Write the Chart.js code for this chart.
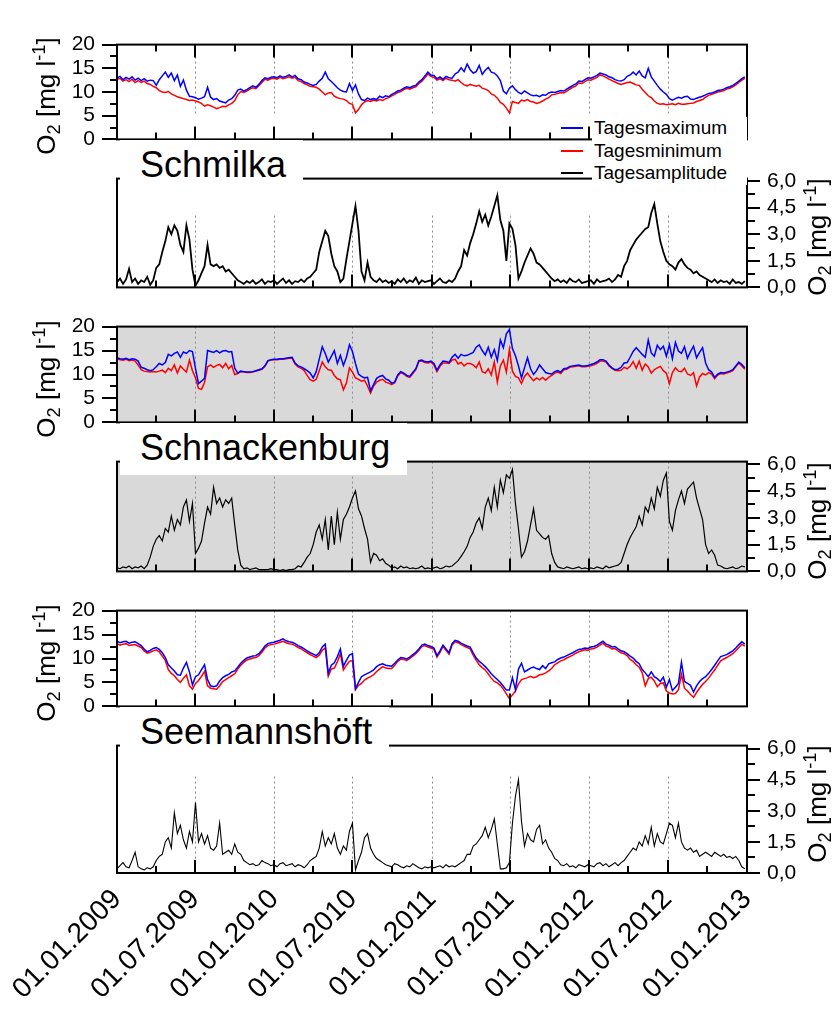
<!DOCTYPE html>
<html>
<head>
<meta charset="utf-8">
<script src="https://cdn.jsdelivr.net/npm/chart.js@4.4.1/dist/chart.umd.min.js"></script>
<style>
  body { margin: 0; background: #fff; }
  #wrap { position: relative; width: 832px; height: 1014px; overflow: hidden; font-family: 'Liberation Sans', Arial, sans-serif; }
  #wrap canvas { position: absolute; left: 0; }
  .station { position: absolute; left: 120px; height: 52px; line-height: 49px; padding: 0 17px 0 20px; background: #fff; font-size: 36px; z-index: 5; white-space: nowrap; }
  .ytitle { position: absolute; font-size: 26px; line-height: 1; white-space: nowrap; transform: translate(-50%, -50%) rotate(-90deg); z-index: 5; }
  .ytitle sub, .ytitle sup { font-size: 70%; line-height: 0; position: relative; vertical-align: baseline; }
  .ytitle sub { top: 0.3em; }
  .ytitle sup { top: -0.55em; }
  #legend { position: absolute; left: 561px; top: 117px; z-index: 6; font-size: 19px; }
  #legend .row { display: flex; align-items: center; height: 22.5px; }
  #legend .swatch { width: 22px; height: 2px; margin-right: 9px; }
  #legend .label { display: inline-block; width: 153px; height: 22.5px; line-height: 22.5px; background: #fff; padding-left: 2px; }
</style>
</head>
<body>
<div id="wrap"></div>
<script>
// weekly values, first value on 01.01.2009, one row per quarter
const startLabel = '01.01.2009';
const stepDays = 7;

const tickDates = ['01.01.2009', '01.07.2009', '01.01.2010', '01.07.2010', '01.01.2011', '01.07.2011', '01.01.2012', '01.07.2012', '01.01.2013'];
const quarterDates = ['01.04.2009', '01.10.2009', '01.04.2010', '01.10.2010', '01.04.2011', '01.10.2011', '01.04.2012', '01.10.2012'];
const o2Ticks = [0, 5, 10, 15, 20];
const ampTicks = [0, 1.5, 3, 4.5, 6];

const seriesNames = ['Tagesmaximum', 'Tagesminimum', 'Tagesamplitude'];
const stations = ['Schmilka', 'Schnackenburg', 'Seemannshöft'];

const schmilkaMax = [
  13.0, 13.3, 12.6, 13.1, 12.7, 13.2, 12.5, 12.9, 12.4, 12.8, 12.3, 12.5, 12.4,
  11.4, 12.6, 13.4, 14.2, 13.1, 14.0, 12.4, 13.6, 11.2, 12.5, 10.4, 9.1, 9.0,
  8.8, 8.5, 8.7, 9.0, 11.0, 8.9, 8.4, 8.6, 8.1, 7.9, 7.7, 8.3, 8.6,
  9.3, 10.4, 10.6, 10.2, 10.5, 10.9, 11.3, 11.0, 11.6, 12.4, 13.0, 12.8, 13.1,
  13.2, 13.0, 13.4, 13.1, 13.3, 13.6, 13.2, 13.5, 12.8, 12.6, 12.1, 11.9, 11.6,
  11.4, 11.6, 12.3, 12.9, 14.2, 12.8, 12.2, 11.6, 10.9, 10.4, 10.1, 10.0, 11.8,
  10.3, 11.5, 9.6, 8.4, 8.2, 8.7, 8.4, 8.6, 8.4, 9.1, 8.8, 9.2, 9.0,
  9.5, 9.8, 10.2, 10.4, 10.8, 11.1, 10.9, 11.2, 11.4, 12.1, 12.6, 13.4, 14.2,
  13.6, 13.5, 12.8, 13.2, 12.7, 13.3, 13.0, 12.9, 13.8, 14.2, 15.1, 14.3, 15.9,
  14.7, 14.0, 14.3, 15.6, 13.7, 14.6, 15.2, 14.2, 14.0, 13.4, 12.4, 10.2, 9.6,
  10.8, 11.3, 10.5, 9.9, 9.6, 10.2, 9.8, 9.4, 9.2, 9.3, 9.0, 9.4, 9.3,
  9.8, 10.0, 9.9, 10.1, 10.3, 10.2, 10.6, 11.0, 11.4, 11.7, 12.3, 12.2, 12.6,
  13.0, 12.9, 13.2, 13.5, 14.0, 13.8, 13.6, 13.2, 13.0, 12.6, 12.4, 12.3, 12.6,
  13.3, 13.6, 14.2, 13.6, 14.4, 13.4, 13.0, 15.0, 13.2, 12.3, 11.4, 10.6, 10.0,
  9.5, 8.6, 8.3, 8.6, 8.9, 8.7, 9.0, 9.1, 8.5, 8.4, 8.7, 8.9, 9.1,
  9.4, 9.7, 9.8, 10.0, 10.3, 10.4, 10.6, 10.9, 11.1, 11.4, 11.8, 12.3, 12.8,
  13.2
];
const schmilkaMin = [
  12.7, 12.9, 12.3, 12.6, 12.2, 12.7, 12.0, 12.4, 12.0, 12.3, 11.8, 11.6, 11.2,
  10.9, 10.3, 10.0, 9.9, 10.1, 9.6, 9.3, 9.0, 8.8, 8.6, 8.4, 8.2, 8.3,
  8.1, 7.9, 7.6, 7.0, 7.3, 7.1, 6.8, 6.5, 6.7, 7.0, 6.9, 7.3, 7.6,
  8.2, 9.4, 10.1, 9.9, 10.2, 10.6, 10.9, 10.7, 11.3, 12.0, 12.7, 12.5, 12.8,
  12.9, 12.7, 13.1, 12.8, 13.0, 13.2, 12.9, 13.1, 12.4, 12.2, 11.8, 11.5, 11.2,
  11.1, 11.0, 10.6, 10.0, 9.4, 9.8, 9.9, 9.1, 8.8, 8.6, 8.5, 8.2, 7.6,
  7.4, 5.6, 6.3, 7.3, 7.9, 8.2, 8.0, 8.3, 8.1, 8.4, 8.2, 8.6, 8.8,
  9.2, 9.5, 9.9, 10.1, 10.5, 10.8, 10.6, 10.9, 11.1, 11.8, 12.3, 13.0, 13.8,
  13.3, 13.1, 12.5, 12.8, 12.4, 12.9, 12.6, 12.5, 12.3, 12.6, 12.0, 11.5, 11.3,
  11.6, 11.4, 11.2, 11.4, 10.8, 10.6, 10.3, 9.6, 9.3, 8.7, 7.8, 7.4, 6.6,
  5.6, 8.0, 7.8, 7.6, 8.3, 8.1, 8.4, 8.0, 7.9, 7.6, 7.8, 8.1, 8.5,
  8.8, 9.4, 9.5, 9.7, 9.9, 9.8, 10.2, 10.6, 11.0, 11.3, 11.9, 11.8, 12.2,
  12.6, 12.5, 12.8, 13.1, 13.6, 13.4, 13.1, 12.7, 12.4, 12.1, 11.8, 11.6, 11.8,
  12.0, 12.1, 11.8, 11.5, 11.4, 10.6, 9.9, 9.2, 8.8, 8.1, 7.6, 7.4, 7.5,
  7.3, 7.4, 7.5, 7.3, 7.6, 7.4, 7.4, 7.5, 7.6, 7.7, 8.0, 8.2, 8.4,
  8.9, 9.3, 9.5, 9.7, 10.0, 10.1, 10.3, 10.6, 10.8, 11.1, 11.5, 12.0, 12.5,
  12.9
];
const schmilkaAmp = [
  0.3, 0.5, 0.2, 0.45, 1.05, 0.3, 0.5, 0.2, 0.4, 0.3, 0.6, 0.15, 0.4,
  1.1, 1.3, 2.0, 2.6, 3.4, 3.0, 3.5, 3.2, 2.4, 2.0, 3.5, 2.7, 1.0,
  0.1, 0.4, 0.8, 1.2, 2.4, 1.3, 1.2, 1.3, 1.1, 1.2, 0.9, 1.0, 0.8,
  0.6, 0.4, 0.3, 0.2, 0.35, 0.25, 0.4, 0.2, 0.3, 0.45, 0.2, 0.35, 0.3,
  0.4, 0.2, 0.35, 0.5, 0.25, 0.4, 0.2, 0.35, 0.3, 0.45, 0.3, 0.5, 0.6,
  0.8, 1.0, 2.0, 2.6, 3.2, 2.9, 1.9, 1.2, 0.9, 0.3, 0.5, 1.6, 2.6,
  3.6, 4.6, 3.2, 0.9, 0.4, 1.4, 0.6, 0.4, 0.3, 0.5, 0.3, 0.4, 0.25,
  0.35, 0.2, 0.45, 0.3, 0.5, 0.25, 0.4, 0.3, 0.55, 0.2, 0.4, 0.3, 0.35,
  0.4, 0.2, 0.35, 0.5, 0.3, 0.25, 0.4, 0.3, 0.5, 0.9, 1.2, 2.1, 1.8,
  2.5, 3.0, 3.6, 4.3, 3.7, 4.1, 3.5, 4.0, 4.6, 5.2, 3.8, 3.2, 1.5,
  3.6, 3.3, 2.4, 0.5, 0.9, 1.4, 1.8, 2.2, 1.9, 1.4, 1.3, 1.1, 0.9,
  0.7, 0.5, 0.35, 0.45, 0.3, 0.4, 0.25, 0.5, 0.35, 0.3, 0.45, 0.25, 0.3,
  0.35, 0.4, 0.2, 0.45, 0.3, 0.35, 0.4, 0.5, 0.3, 0.45, 0.7, 0.6, 1.2,
  1.5, 2.1, 2.4, 2.7, 2.9, 3.1, 3.3, 3.4, 4.2, 4.7, 3.6, 2.6, 2.0,
  1.5, 1.3, 1.2, 1.0, 1.4, 1.6, 1.3, 1.1, 1.0, 0.8, 0.9, 0.7, 0.6,
  0.5, 0.4, 0.3, 0.45, 0.25, 0.4, 0.3, 0.35, 0.2, 0.45, 0.25, 0.3, 0.2,
  0.35
];

const schnackenburgMax = [
  13.5, 13.3, 13.2, 13.4, 13.1, 13.3, 13.2, 12.8, 11.5, 11.3, 11.0, 10.8, 11.0,
  11.6, 12.3, 12.0, 12.5, 14.2, 13.9, 14.4, 14.7, 13.6, 14.7, 14.4, 15.0, 14.8,
  11.3, 8.1, 8.6, 9.2, 15.0, 14.8, 14.6, 15.0, 14.5, 14.9, 15.0, 14.7, 14.8,
  11.3, 10.3, 10.7, 10.6, 10.5, 10.5, 10.6, 10.8, 11.0, 11.2, 11.8, 12.9, 13.1,
  13.2, 13.2, 13.3, 13.3, 13.4, 13.5, 13.6, 12.4, 11.8, 11.6, 11.2, 10.8, 10.3,
  9.3, 10.6, 13.2, 15.8, 14.4, 12.6, 13.8, 15.0, 12.3, 14.0, 11.9, 13.6, 16.2,
  14.8, 12.3, 10.1, 9.6, 9.3, 9.4, 6.6, 7.9, 9.2, 9.6, 9.8, 9.1, 8.8,
  8.2, 8.4, 9.9, 10.6, 10.3, 9.8, 9.6, 10.4, 11.2, 12.9, 13.0, 12.7, 12.6,
  12.8, 12.3, 10.9, 12.0, 12.8, 12.7, 12.5, 13.6, 14.2, 13.4, 14.2, 13.9, 14.0,
  14.3, 14.6, 15.7, 16.2, 15.0, 14.1, 15.7, 13.6, 15.2, 12.9, 17.2, 15.6, 18.5,
  19.4, 15.4, 13.9, 11.8, 9.3, 11.4, 13.5, 11.2, 10.0, 10.8, 12.0, 11.2, 10.4,
  10.2, 10.1, 10.6, 10.8, 10.5, 11.2, 11.3, 11.7, 11.8, 11.9, 12.0, 11.8, 11.8,
  11.9, 12.1, 12.3, 12.6, 13.1, 13.1, 12.8, 12.0, 11.4, 11.0, 11.1, 11.5, 12.4,
  12.5, 13.6, 14.8, 15.6, 14.9, 14.2, 13.6, 17.2, 14.5, 13.8, 16.1, 15.2, 15.9,
  13.8, 16.2, 13.3, 16.7, 14.9, 14.4, 15.8, 13.4, 14.8, 15.9, 13.5, 14.6, 15.6,
  12.4, 11.0, 10.5, 9.4, 10.1, 10.4, 10.3, 10.5, 10.7, 11.0, 11.8, 12.6, 12.1,
  11.4
];
const schnackenburgMin = [
  13.3, 13.1, 13.0, 13.2, 12.9, 13.0, 12.8, 12.0, 11.0, 10.7, 10.6, 10.5, 10.6,
  10.5, 10.7, 10.9, 10.4, 11.3, 10.8, 12.0, 10.3, 11.8, 11.1, 10.5, 13.0, 10.8,
  9.3, 7.1, 6.9, 8.3, 11.6, 12.0, 11.5, 11.9, 12.1, 11.4, 12.3, 11.2, 11.9,
  10.0, 10.2, 10.6, 10.5, 10.4, 10.4, 10.5, 10.7, 10.9, 11.1, 11.7, 12.8, 13.0,
  13.1, 13.1, 13.2, 13.2, 13.3, 13.4, 13.4, 12.2, 11.6, 11.3, 10.8, 9.8, 8.9,
  8.6, 9.0, 10.8, 12.6, 11.6, 11.0, 10.9, 9.8, 9.1, 8.9, 6.8, 8.2, 11.4,
  10.5, 9.3, 9.0, 8.6, 8.8, 7.6, 6.1, 7.6, 8.4, 8.8, 9.0, 8.4, 8.2,
  7.9, 8.3, 9.7, 10.4, 10.1, 9.6, 9.4, 10.2, 11.0, 12.7, 12.8, 12.5, 12.4,
  12.6, 12.0, 10.6, 11.7, 12.4, 12.4, 12.3, 13.0, 13.2, 12.2, 12.5, 11.8, 12.3,
  12.3, 12.0, 11.4, 12.6, 10.6, 10.3, 11.2, 9.9, 12.6, 8.4, 11.8, 13.0, 10.5,
  15.2, 10.7, 9.6, 9.3, 8.1, 9.6, 10.3, 9.4, 8.7, 9.3, 8.9, 9.4, 8.8,
  9.4, 9.8, 10.3, 10.5, 10.2, 11.0, 11.1, 11.5, 11.6, 11.7, 11.8, 11.6, 11.6,
  11.7, 11.8, 12.0, 12.3, 12.8, 12.8, 12.6, 11.8, 11.3, 10.9, 10.8, 10.9, 11.5,
  11.2, 11.7, 12.7, 11.3, 12.8, 10.9, 12.2, 11.6, 10.3, 11.0, 11.4, 11.7, 10.8,
  10.3, 8.1, 10.4, 11.4, 10.7, 10.6, 11.3, 10.1, 9.8, 10.4, 7.6, 9.5, 10.2,
  9.9, 10.4, 10.1, 9.1, 9.9, 10.2, 10.1, 10.3, 10.5, 10.8, 11.6, 12.4, 11.8,
  11.1
];
const schnackenburgAmp = [
  0.2, 0.15, 0.25, 0.2, 0.3, 0.15, 0.25, 0.2, 0.3, 0.15, 0.35, 0.8, 1.4,
  1.8, 2.0, 1.7, 2.4, 2.2, 3.1, 2.3, 2.9, 2.6, 3.6, 4.0, 2.8, 3.8,
  1.0, 1.3, 1.7, 2.7, 3.6, 3.2, 4.7, 3.8, 4.1, 3.6, 4.0, 3.8, 4.1,
  2.6, 1.2, 0.35, 0.15, 0.2, 0.1, 0.15, 0.2, 0.1, 0.1, 0.1, 0.1, 0.15,
  0.1, 0.1, 0.05, 0.1, 0.05, 0.1, 0.1, 0.15, 0.3, 0.25, 0.5, 0.8, 1.0,
  1.5, 2.2, 2.6, 1.8, 2.9, 1.2, 3.1, 1.5, 3.3, 1.8, 2.9, 3.2, 3.6,
  4.1, 4.5, 3.5, 3.1, 2.4, 1.8, 0.5, 1.0, 0.9, 0.6, 0.7, 0.45, 0.35,
  0.2, 0.25, 0.15, 0.3, 0.2, 0.25, 0.15, 0.2, 0.15, 0.2, 0.3, 0.15, 0.2,
  0.15, 0.2, 0.25, 0.15, 0.2, 0.3, 0.25, 0.3, 0.45, 0.6, 0.84, 1.1, 1.4,
  1.9, 2.2, 2.7, 3.0, 2.4, 3.6, 4.1, 3.4, 4.7, 3.6, 5.1, 4.4, 5.4,
  5.2, 5.7, 3.8, 2.4, 0.8, 1.1, 1.7, 2.6, 3.5, 2.3, 2.1, 1.9, 1.8,
  2.0, 1.0, 0.5, 0.25, 0.2, 0.15, 0.25, 0.2, 0.15, 0.2, 0.25, 0.15, 0.2,
  0.15, 0.2, 0.15, 0.25, 0.2, 0.15, 0.3, 0.2, 0.25, 0.3, 0.35, 0.5, 1.0,
  1.5, 1.9, 2.2, 2.5, 3.1, 2.6, 3.6, 3.3, 4.1, 3.5, 4.7, 4.2, 5.1,
  5.5, 2.8, 2.3, 3.4, 4.0, 4.5, 3.8, 4.6, 4.8, 5.0, 4.1, 3.5, 2.9,
  1.5, 1.0, 1.2, 0.9, 0.35, 0.3, 0.2, 0.15, 0.2, 0.25, 0.15, 0.2, 0.3,
  0.25
];

const seemannshoeftMax = [
  13.6, 13.3, 13.5, 13.6, 13.2, 13.4, 13.5, 13.1, 12.7, 12.0, 11.4, 11.7, 12.1,
  12.3, 11.9, 11.2, 10.2, 8.7, 8.0, 7.4, 6.6, 6.5, 8.0, 9.2, 7.2, 4.5,
  6.2, 6.6, 7.7, 8.7, 5.6, 4.3, 4.1, 4.3, 5.3, 6.0, 6.4, 6.7, 7.2,
  7.4, 8.2, 9.0, 9.6, 10.1, 10.3, 10.5, 10.6, 11.0, 11.7, 12.6, 13.1, 13.3,
  13.4, 13.6, 13.8, 14.1, 13.7, 13.5, 13.4, 13.1, 12.7, 12.4, 12.0, 11.6, 11.2,
  10.9, 10.6, 11.2, 12.4, 13.0, 6.9, 8.6, 9.1, 10.4, 12.0, 8.4, 9.6, 10.7,
  11.0, 3.7, 5.0, 6.2, 6.6, 6.9, 7.2, 7.6, 8.3, 8.7, 8.9, 8.6, 8.5,
  8.4, 9.0, 9.7, 10.2, 10.1, 9.9, 10.3, 10.8, 11.3, 12.0, 12.8, 13.0, 12.7,
  12.5, 12.2, 10.6, 11.6, 12.8, 12.0, 11.2, 13.1, 13.8, 13.6, 13.2, 12.9, 12.6,
  12.4, 11.2, 10.1, 9.4, 8.9, 8.3, 7.6, 6.8, 6.2, 5.6, 5.0, 4.2, 3.4,
  3.4, 6.0, 3.5, 7.8, 9.0, 7.2, 7.6, 8.0, 8.2, 7.9, 7.7, 8.5, 7.9,
  8.9, 9.1, 9.3, 9.8, 10.1, 10.3, 10.6, 10.9, 11.2, 11.6, 11.9, 12.0, 12.2,
  12.1, 12.4, 12.5, 12.8, 13.2, 13.6, 13.0, 12.8, 12.4, 12.5, 12.0, 11.6, 11.4,
  11.0, 10.5, 10.1, 9.4, 8.9, 7.7, 7.0, 6.2, 7.2, 6.2, 5.8, 5.2, 6.1,
  4.0, 5.6, 3.3, 4.0, 4.8, 9.2, 5.2, 4.8, 4.4, 3.0, 4.3, 5.2, 5.8,
  6.2, 6.9, 7.7, 8.6, 9.5, 10.4, 10.6, 10.8, 11.2, 11.6, 12.2, 12.9, 13.5,
  13.0
];
const seemannshoeftMin = [
  13.1, 12.8, 13.0, 13.1, 12.7, 12.8, 12.9, 12.6, 12.3, 11.6, 11.1, 11.3, 11.6,
  11.8, 11.4, 10.5, 9.6, 7.7, 6.9, 6.4, 5.6, 5.0, 5.9, 6.6, 4.3, 3.6,
  4.8, 5.4, 6.3, 7.3, 4.3, 3.8, 3.7, 3.6, 4.3, 5.2, 5.6, 6.0, 6.4,
  6.8, 7.8, 8.6, 9.2, 9.7, 9.9, 10.1, 10.2, 10.6, 11.3, 12.2, 12.7, 12.9,
  13.0, 13.2, 13.4, 13.6, 13.3, 13.1, 13.0, 12.7, 12.3, 12.0, 11.6, 11.2, 10.8,
  10.5, 10.2, 10.7, 11.7, 12.2, 6.3, 7.8, 8.0, 9.3, 11.0, 7.6, 8.6, 9.4,
  9.6, 3.5, 4.4, 4.8, 5.5, 5.9, 6.2, 6.6, 7.3, 7.8, 8.3, 8.0, 7.9,
  7.9, 8.6, 9.4, 9.9, 9.8, 9.6, 10.0, 10.5, 11.0, 11.7, 12.5, 12.7, 12.4,
  12.2, 11.9, 10.3, 11.3, 12.5, 11.7, 10.9, 12.8, 13.5, 13.3, 12.9, 12.6, 12.3,
  12.0, 10.7, 9.6, 8.7, 8.1, 7.6, 6.8, 5.9, 5.2, 4.9, 4.4, 3.6, 2.6,
  1.6, 2.4, 3.2, 4.7, 5.6, 5.8, 6.0, 6.3, 6.0, 6.2, 6.6, 6.7, 7.0,
  7.4, 7.9, 8.7, 9.1, 9.5, 9.7, 10.1, 10.4, 10.7, 11.1, 11.4, 11.6, 11.8,
  11.7, 12.0, 12.1, 12.4, 12.8, 13.2, 12.6, 12.4, 12.0, 12.1, 11.6, 11.2, 11.0,
  10.6, 9.8, 9.4, 8.7, 8.2, 7.0, 4.3, 5.8, 6.1, 5.3, 4.1, 4.8, 4.9,
  3.2, 2.8, 2.6, 2.7, 3.5, 6.7, 3.8, 3.2, 2.5, 1.9, 2.9, 3.8, 4.6,
  5.2, 5.9, 6.8, 7.6, 8.6, 9.5, 9.9, 10.2, 10.6, 11.0, 11.6, 12.3, 13.0,
  12.6
];
const seemannshoeftAmp = [
  0.2, 0.35, 0.5, 0.3, 0.25, 0.6, 1.0, 0.3, 0.2, 0.15, 0.25, 0.2, 0.3,
  0.6, 0.8, 0.9, 1.5, 1.7, 1.2, 2.9, 1.9, 2.3, 1.6, 1.2, 2.0, 1.5,
  3.4, 1.5, 1.9, 1.4, 1.8, 1.2, 1.1, 1.3, 2.4, 0.9, 1.0, 1.1, 0.9,
  1.4, 1.0, 0.9, 0.6, 0.5, 0.4, 0.45, 0.35, 0.4, 0.6, 0.5, 0.45, 0.35,
  0.4, 0.3, 0.45, 0.5, 0.35, 0.4, 0.45, 0.3, 0.4, 0.35, 0.25, 0.4, 0.6,
  0.7, 0.8, 1.2, 2.0, 1.3, 1.7, 1.4, 1.9, 1.2, 0.9, 1.3, 1.1, 2.0,
  2.4, 0.15, 0.6, 1.0, 1.7, 1.9, 1.2, 0.9, 0.7, 0.6, 0.5, 0.4, 0.35,
  0.3, 0.45, 0.4, 0.3, 0.25, 0.35, 0.3, 0.45, 0.35, 0.25, 0.2, 0.3, 0.25,
  0.3, 0.25, 0.3, 0.35, 0.25, 0.4, 0.3, 0.35, 0.3, 0.4, 0.5, 0.6, 0.9,
  0.9, 1.3, 1.4, 1.6, 1.8, 2.2, 1.7, 2.1, 2.6, 1.4, 0.2, 0.2, 0.25,
  0.5, 2.4, 3.7, 4.5, 2.5, 1.3, 1.9, 1.6, 1.5, 2.1, 2.3, 1.4, 1.6,
  1.2, 1.0, 0.7, 0.6, 0.4, 0.35, 0.45, 0.3, 0.35, 0.25, 0.4, 0.35, 0.3,
  0.4, 0.35, 0.3, 0.45, 0.5, 0.35, 0.45, 0.3, 0.4, 0.5, 0.35, 0.5, 0.6,
  0.8, 1.0, 1.2, 1.1, 1.5, 1.3, 1.8, 1.4, 2.2, 1.3, 1.9, 1.5, 1.4,
  1.9, 2.4, 2.3, 1.7, 2.4, 1.5, 1.2, 1.1, 1.2, 1.0, 1.1, 0.8, 0.9,
  1.0, 0.9, 0.8, 1.0, 0.9, 0.8, 0.9, 0.75, 0.8, 0.7, 0.8, 0.6, 0.3,
  0.2
];

const colMax = '#0000ff';
const colMin = '#ff0000';
const colAmp = '#000000';
const shade = '#d9d9d9';

// panel geometry in page pixels; value ranges of the two kinds of panel
const plotLeft = 117, plotRight = 747;
const o2Top = 20, ampTop = 6.14;
const panels = [
  { kind: 'o2', top: 24, bottom: 160, hi: schmilkaMax, lo: schmilkaMin, gridInset: [12, 26], firstTicks: true },
  { kind: 'amp', top: 160, bottom: 306, amp: schmilkaAmp, lw: 1.8, gridInset: [37, 0], station: stations[0] },
  { kind: 'o2', top: 306, bottom: 443, hi: schnackenburgMax, lo: schnackenburgMin, gridInset: [0, 20], shaded: true },
  { kind: 'amp', top: 443, bottom: 590, amp: schnackenburgAmp, lw: 1.2, gridInset: [0, 0], shaded: true, station: stations[1] },
  { kind: 'o2', top: 590, bottom: 727, hi: seemannshoeftMax, lo: seemannshoeftMin, gridInset: [0, 26] },
  { kind: 'amp', top: 727, bottom: 873, amp: seemannshoeftAmp, lw: 1.1, gridInset: [31, 0], station: stations[2] }
];

function dayOf(label) {
  const [d, m, y] = label.split('.').map(Number);
  const [d0, m0, y0] = startLabel.split('.').map(Number);
  return Math.round((Date.UTC(y, m - 1, d) - Date.UTC(y0, m0 - 1, d0)) / 86400000);
}
const lastDay = dayOf(tickDates[tickDates.length - 1]);

function series(values, color, width, axis) {
  return {
    data: values.map((v, k) => ({ x: k * stepDays, y: v })),
    borderColor: color,
    borderWidth: width,
    pointRadius: 0,
    tension: 0,
    fill: false,
    yAxisID: axis
  };
}

function midpoints(arr) {
  const out = [];
  for (let k = 0; k < arr.length - 1; k++) out.push((arr[k] + arr[k + 1]) / 2);
  return out;
}

const panelFrame = {
  id: 'panelFrame',
  beforeDatasetsDraw(chart, args, o) {
    const { ctx, chartArea: a } = chart;
    const x = chart.scales.x;
    ctx.save();
    if (o.shaded) {
      ctx.fillStyle = shade;
      ctx.fillRect(a.left, a.top, a.right - a.left, a.bottom - a.top);
    }
    ctx.strokeStyle = '#8a8a8a';
    ctx.lineWidth = 1;
    ctx.setLineDash([2, 3]);
    tickDates.slice(1, -1).forEach(l => {
      const px = Math.round(x.getPixelForValue(dayOf(l))) + 0.5;
      ctx.beginPath();
      ctx.moveTo(px, a.top + o.gridInset[0]);
      ctx.lineTo(px, a.bottom - o.gridInset[1]);
      ctx.stroke();
    });
    ctx.restore();
  },
  afterDraw(chart, args, o) {
    const { ctx, chartArea: a, scales } = chart;
    ctx.save();
    ctx.strokeStyle = '#000';
    ctx.lineWidth = 2;
    const seg = (x1, y1, x2, y2) => { ctx.beginPath(); ctx.moveTo(x1, y1); ctx.lineTo(x2, y2); ctx.stroke(); };

    // date ticks, pointing into the panel
    const dateTick = (label, len) => {
      const px = Math.round(scales.x.getPixelForValue(dayOf(label)));
      seg(px, a.bottom, px, a.bottom - len);
      if (o.firstTicks) seg(px, a.top, px, a.top + len);
    };
    tickDates.slice(1, -1).forEach(l => dateTick(l, 13));
    quarterDates.forEach(l => dateTick(l, 7));

    // value ticks on the labelled side, pointing out
    if (o.kind === 'o2') {
      const y = scales.y;
      o2Ticks.forEach(v => { const py = Math.round(y.getPixelForValue(v)); seg(a.left - 15, py, a.left, py); });
      midpoints(o2Ticks).forEach(v => { const py = Math.round(y.getPixelForValue(v)); seg(a.left - 7, py, a.left, py); });
    } else {
      const y = scales.yR;
      ampTicks.forEach(v => { const py = Math.round(y.getPixelForValue(v)); seg(a.right, py, a.right + 13, py); });
      midpoints(ampTicks).forEach(v => { const py = Math.round(y.getPixelForValue(v)); seg(a.right, py, a.right + 8, py); });
    }
    ctx.strokeRect(a.left, a.top, a.right - a.left, a.bottom - a.top);
    ctx.restore();
  }
};

Chart.defaults.font.family = "'Liberation Sans', Arial, sans-serif";
Chart.defaults.color = '#000';

const wrap = document.getElementById('wrap');

panels.forEach((p, i) => {
  const isLast = i === panels.length - 1;
  const pad = 14;
  const cTop = p.top - pad;
  const cBottom = isLast ? 1014 : p.bottom + pad;
  const canvas = document.createElement('canvas');
  canvas.width = 832;
  canvas.height = cBottom - cTop;
  canvas.style.top = cTop + 'px';
  wrap.appendChild(canvas);

  const datasets = p.kind === 'o2'
    ? [series(p.hi, colMax, 1.5, 'y'), series(p.lo, colMin, 1.5, 'y')]
    : [series(p.amp, colAmp, p.lw, 'yR')];

  new Chart(canvas, {
    type: 'line',
    data: { datasets },
    options: {
      responsive: false,
      animation: false,
      devicePixelRatio: 1,
      events: [],
      layout: { padding: { top: pad, bottom: isLast ? 0 : pad, left: 0, right: 0 } },
      plugins: {
        legend: { display: false },
        tooltip: { enabled: false },
        panelFrame: { kind: p.kind, shaded: !!p.shaded, gridInset: p.gridInset, firstTicks: !!p.firstTicks }
      },
      scales: {
        x: {
          type: 'linear',
          min: 0,
          max: lastDay,
          display: isLast,
          afterFit: s => { s.height = isLast ? 1014 - p.bottom : 0; },
          afterBuildTicks: s => { s.ticks = tickDates.map(l => ({ value: dayOf(l) })); },
          ticks: {
            autoSkip: false,
            minRotation: 45,
            maxRotation: 45,
            padding: 10,
            font: { size: 28 },
            callback: (v, idx) => tickDates[idx]
          },
          grid: { display: false, drawTicks: false },
          border: { display: false }
        },
        y: {
          position: 'left',
          min: 0,
          max: o2Top,
          afterFit: s => { s.width = plotLeft; },
          afterBuildTicks: s => { s.ticks = o2Ticks.map(v => ({ value: v })); },
          ticks: { display: p.kind === 'o2', autoSkip: false, padding: 22, font: { size: 21 }, callback: v => String(v) },
          grid: { display: false, drawTicks: false },
          border: { display: false }
        },
        yR: {
          position: 'right',
          min: 0,
          max: ampTop,
          afterFit: s => { s.width = 832 - plotRight; },
          afterBuildTicks: s => { s.ticks = ampTicks.map(v => ({ value: v })); },
          ticks: { display: p.kind === 'amp', autoSkip: false, padding: 20, font: { size: 21 }, callback: v => v.toFixed(1).replace('.', ',') },
          grid: { display: false, drawTicks: false },
          border: { display: false }
        }
      }
    },
    plugins: [panelFrame]
  });

  // axis title for the labelled side
  const title = document.createElement('div');
  title.className = 'ytitle';
  title.innerHTML = 'O<sub>2</sub> [mg l<sup>-1</sup>]';
  title.style.left = (p.kind === 'o2' ? 46 : 817) + 'px';
  title.style.top = ((p.top + p.bottom) / 2 + 4) + 'px';
  wrap.appendChild(title);

  // station name sits on the border between its two panels
  if (p.station) {
    const lab = document.createElement('div');
    lab.className = 'station';
    lab.textContent = p.station;
    lab.style.top = (p.top - 20) + 'px';
    wrap.appendChild(lab);
  }
});

// legend across the first two panels
const legend = document.createElement('div');
legend.id = 'legend';
[colMax, colMin, colAmp].forEach((c, k) => {
  const row = document.createElement('div');
  row.className = 'row';
  const sw = document.createElement('span');
  sw.className = 'swatch';
  sw.style.background = c;
  const tx = document.createElement('span');
  tx.className = 'label';
  tx.textContent = seriesNames[k];
  row.append(sw, tx);
  legend.appendChild(row);
});
wrap.appendChild(legend);
</script>
</body>
</html>
